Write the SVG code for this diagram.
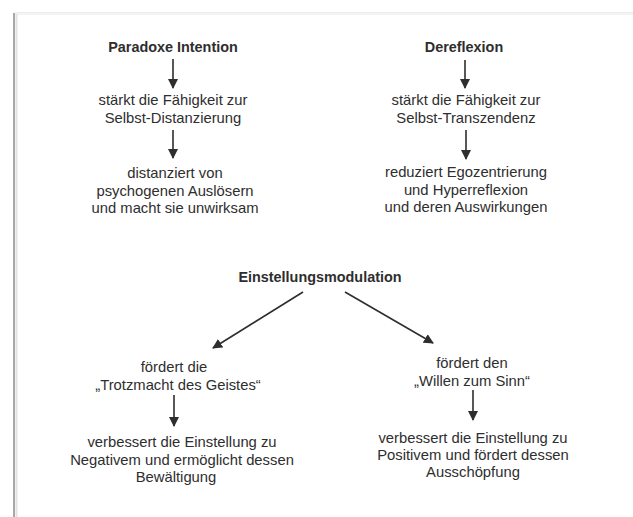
<svg xmlns="http://www.w3.org/2000/svg" width="633" height="517" viewBox="0 0 633 517">
<style>
text{font-family:"Liberation Sans",Arial,sans-serif;fill:#2e2e2e;text-anchor:middle;font-size:14.8px}
.b{font-weight:bold;font-size:14.4px}
.c{stroke:#2e2e2e;stroke-width:1.6;fill:none}
</style>
<defs>
<marker id="ah2" viewBox="0 0 10 10" refX="9" refY="5" markerWidth="10" markerHeight="10" markerUnits="userSpaceOnUse" orient="auto">
<path d="M0,0 L10,5 L0,10 z" fill="#2e2e2e"/>
</marker>
</defs>
<rect width="633" height="517" fill="#fff"/>
<g id="frame">
<line x1="15" y1="13" x2="633" y2="13" stroke="#e6e6e6" stroke-width="1.5"/>
<line x1="15" y1="14" x2="633" y2="14" stroke="#f4f4f4" stroke-width="2"/>
<line x1="14" y1="13" x2="14" y2="517" stroke="#a8a8a8" stroke-width="2"/>
<line x1="16.5" y1="14" x2="16.5" y2="517" stroke="#e2e2e2" stroke-width="2"/>
</g>
<g id="connectors">
<line class="c" x1="173" y1="59" x2="173" y2="88" marker-end="url(#ah2)"/>
<line class="c" x1="173" y1="130" x2="173" y2="158" marker-end="url(#ah2)"/>
<line class="c" x1="465" y1="60" x2="465" y2="88" marker-end="url(#ah2)"/>
<line class="c" x1="466" y1="130" x2="466" y2="159" marker-end="url(#ah2)"/>
<line class="c" x1="303" y1="292" x2="213" y2="348" marker-end="url(#ah2)"/>
<line class="c" x1="345" y1="292" x2="433" y2="343" marker-end="url(#ah2)"/>
<line class="c" x1="174" y1="395" x2="174" y2="426" marker-end="url(#ah2)"/>
<line class="c" x1="473" y1="390" x2="473" y2="420" marker-end="url(#ah2)"/>
</g>
<g id="paradoxe-intention"><text class="b" x="173" y="52">Paradoxe Intention</text></g>
<g id="selbst-distanzierung"><text x="173" y="105">stärkt die Fähigkeit zur</text><text x="173" y="122.5">Selbst-Distanzierung</text></g>
<g id="distanziert"><text x="175" y="178">distanziert von</text><text x="175" y="195.5">psychogenen Auslösern</text><text x="175" y="213">und macht sie unwirksam</text></g>
<g id="dereflexion"><text class="b" x="464" y="52">Dereflexion</text></g>
<g id="selbst-transzendenz"><text x="466" y="105">stärkt die Fähigkeit zur</text><text x="466" y="122.5">Selbst-Transzendenz</text></g>
<g id="reduziert"><text x="466" y="177">reduziert Egozentrierung</text><text x="466" y="194.5">und Hyperreflexion</text><text x="466" y="212">und deren Auswirkungen</text></g>
<g id="einstellungsmodulation"><text class="b" x="320" y="282">Einstellungsmodulation</text></g>
<g id="trotzmacht"><text x="174" y="372">fördert die</text><text x="178" y="390">„Trotzmacht des Geistes“</text></g>
<g id="negativem"><text x="182" y="447">verbessert die Einstellung zu</text><text x="182" y="464.5">Negativem und ermöglicht dessen</text><text x="176" y="482">Bewältigung</text></g>
<g id="willen"><text x="472" y="368">fördert den</text><text x="472" y="386">„Willen zum Sinn“</text></g>
<g id="positivem"><text x="473" y="443">verbessert die Einstellung zu</text><text x="473" y="460">Positivem und fördert dessen</text><text x="473" y="477">Ausschöpfung</text></g>
</svg>
